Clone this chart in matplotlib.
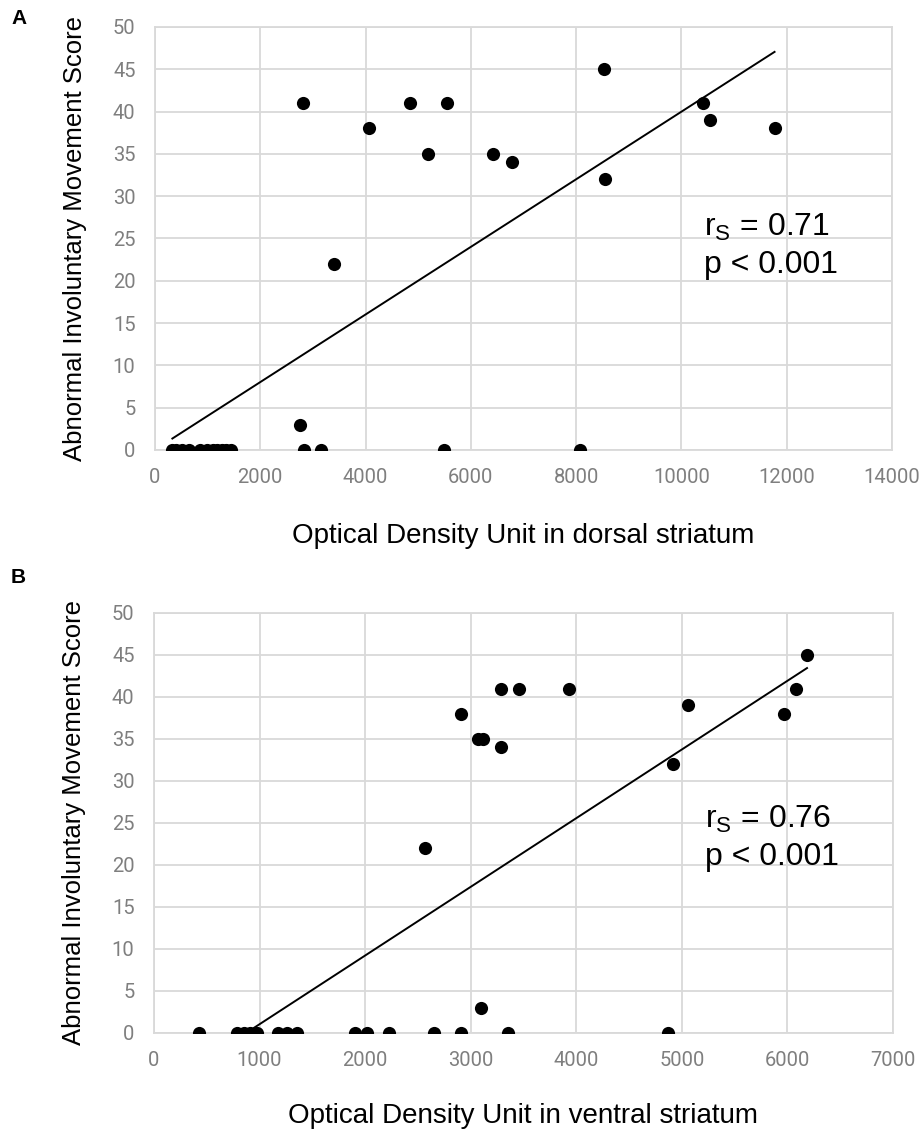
import matplotlib.pyplot as plt
import numpy as np

plt.rcParams["font.family"] = ["Liberation Sans", "DejaVu Sans"]
plt.rcParams["mathtext.fontset"] = "custom"
plt.rcParams["mathtext.rm"] = "Liberation Sans"
plt.rcParams["mathtext.it"] = "Liberation Sans"

# dorsal striatum (panel A)
dorsal_od = [330, 400, 520, 640, 850, 980, 1100, 1180, 1270, 1350, 1440,
             2830, 3160, 5490, 8070,
             2750, 2805, 4843, 5540, 4059, 5179, 6420, 6775, 3394,
             8528, 8547, 10402, 10541, 11770]
dorsal_aim = [0, 0, 0, 0, 0, 0, 0, 0, 0, 0, 0,
              0, 0, 0, 0,
              3, 41, 41, 41, 38, 35, 35, 34, 22,
              45, 32, 41, 39, 38]

# ventral striatum (panel B)
ventral_od = [428, 788, 851, 914, 978, 1178, 1263, 1359, 1905, 2019, 2230,
              2653, 2908, 3352, 4873,
              3098, 3286, 3457, 3933, 2905, 3067, 3114, 3286, 2571,
              6186, 4914, 6086, 5057, 5971]
ventral_aim = [0, 0, 0, 0, 0, 0, 0, 0, 0, 0, 0,
               0, 0, 0, 0,
               3, 41, 41, 41, 38, 35, 35, 34, 22,
               45, 32, 41, 39, 38]

panels = [
    ("A", dorsal_od, dorsal_aim, 14000, 2000, "Optical Density Unit in dorsal striatum", "0.71"),
    ("B", ventral_od, ventral_aim, 7000, 1000, "Optical Density Unit in ventral striatum", "0.76"),
]

GRID = "#d9d9d9"
TICK = "#7f7f7f"

fig = plt.figure(figsize=(9.22, 11.32), dpi=100)
rects = [[0.1681, 0.6025, 0.7993, 0.3737], [0.1670, 0.0875, 0.8015, 0.3710]]
label_y = [-0.1726, -0.167]
letter_y = [0.984, 0.490]
note_y = [0.482, 0.464]

for i, (letter, xs, ys, xmax, xstep, xlab, rs) in enumerate(panels):
    ax = fig.add_axes(rects[i])
    xs = np.array(xs, dtype=float)
    ys = np.array(ys, dtype=float)

    ax.scatter(xs, ys, s=90, color="black", zorder=3, linewidths=0)

    k, b = np.polyfit(xs, ys, 1)
    xl = np.array([xs.min(), xs.max()])
    ax.plot(xl, k * xl + b, color="black", lw=1.4, zorder=2)

    ax.set_xlim(0, xmax)
    ax.set_ylim(0, 50)
    ax.set_xticks(np.arange(0, xmax + 1, xstep))
    ax.set_yticks(np.arange(0, 51, 5))
    ax.grid(True, color=GRID, lw=1.3)
    ax.set_axisbelow(True)
    for sp in ax.spines.values():
        sp.set_color(GRID)
        sp.set_linewidth(1.3)
    ax.tick_params(length=0, labelcolor=TICK, labelsize=14.5)
    ax.tick_params(axis="x", pad=13)
    ax.tick_params(axis="y", pad=14)
    for t in ax.get_xticklabels() + ax.get_yticklabels():
        t.set_fontfamily("Roboto")

    ax.set_xlabel(xlab, fontsize=20)
    ax.xaxis.set_label_coords(0.5, label_y[i])
    ax.set_ylabel("Abnormal Involuntary Movement Score", fontsize=18.5)
    ax.yaxis.set_label_coords(-0.092, 0.5)

    ax.text(0.745, note_y[i], "r$_\\mathrm{S}$ = " + rs + "\np < 0.001",
            transform=ax.transAxes, fontsize=23, va="center", ha="left",
            linespacing=1.3)

    fig.text(0.012, letter_y[i], letter, fontsize=15, fontweight="bold",
             va="center", ha="left")

fig.savefig("out.png", dpi=100)
